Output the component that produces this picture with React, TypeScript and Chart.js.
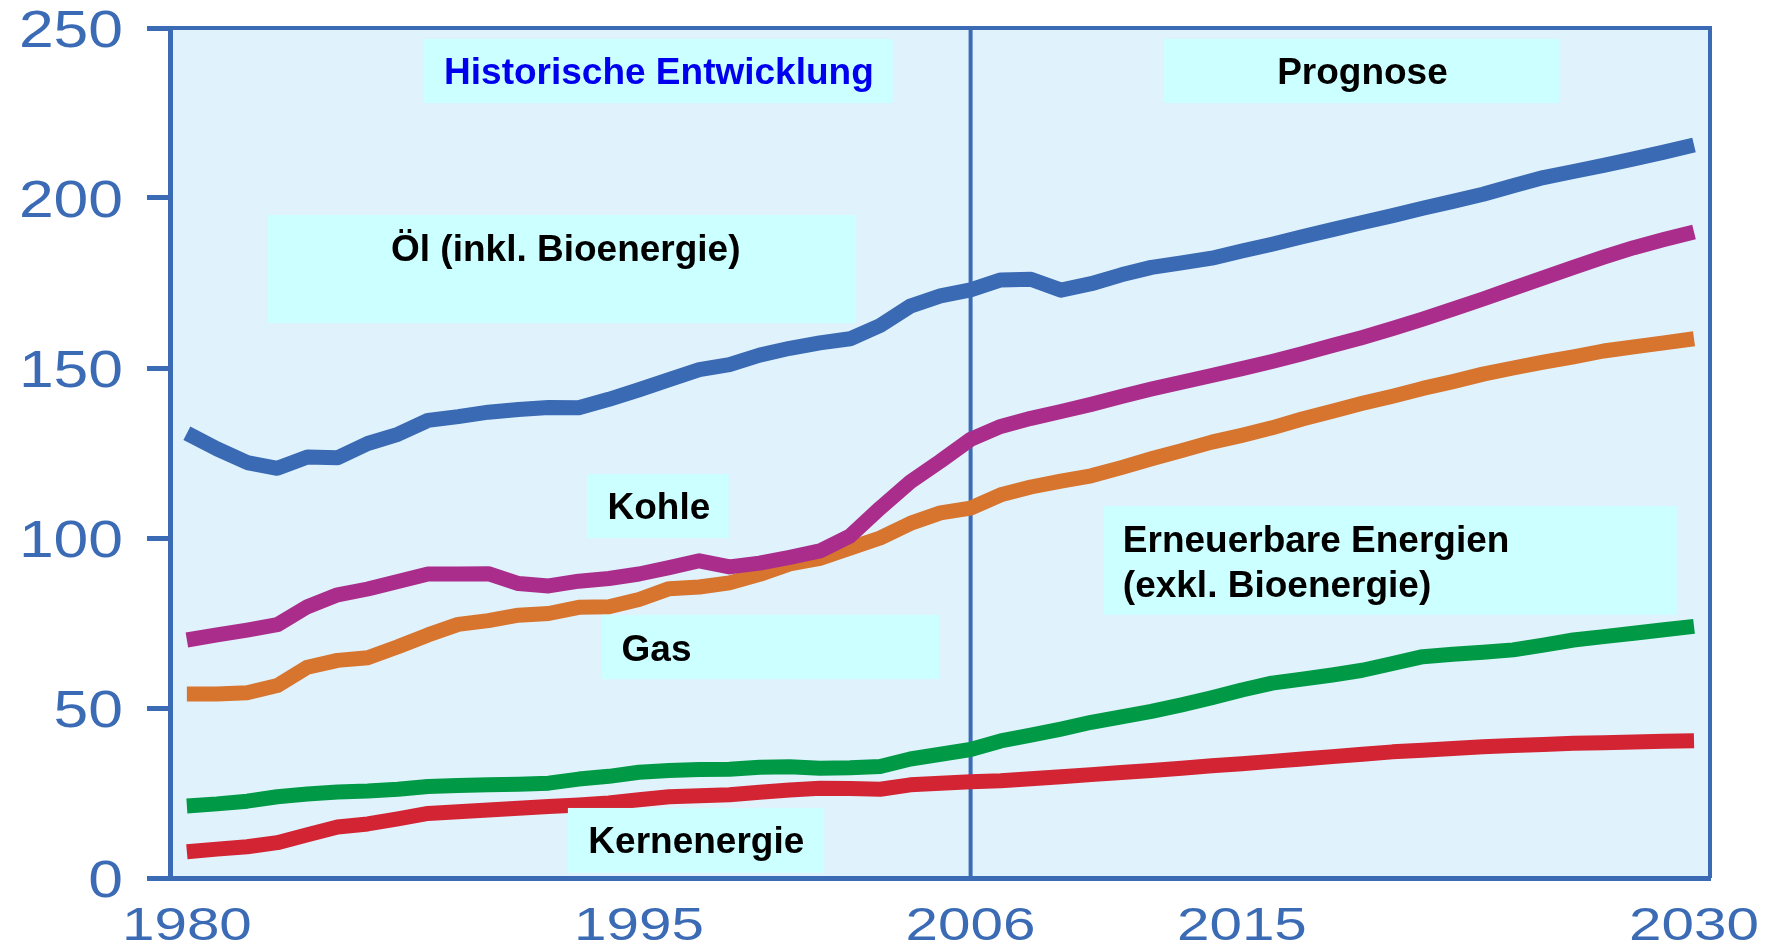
import React, { useEffect, useRef } from "react";
import { Chart, registerables } from "chart.js";

Chart.register(...registerables);

// ---------- data ----------
const years = [
  1980, 1981, 1982, 1983, 1984, 1985, 1986, 1987, 1988, 1989,
  1990, 1991, 1992, 1993, 1994, 1995, 1996, 1997, 1998, 1999,
  2000, 2001, 2002, 2003, 2004, 2005, 2006, 2007, 2008, 2009,
  2010, 2011, 2012, 2013, 2014, 2015, 2016, 2017, 2018, 2019,
  2020, 2021, 2022, 2023, 2024, 2025, 2026, 2027, 2028, 2029,
  2030,
];

const oil = [
  130.8, 126.2, 122.2, 120.5, 123.8, 123.6, 127.8, 130.5, 134.6, 135.7,
  137.0, 137.8, 138.4, 138.3, 140.8, 143.6, 146.6, 149.5, 151.0, 153.8,
  155.8, 157.4, 158.6, 162.5, 168.2, 171.2, 173.0, 175.9, 176.1, 172.9,
  174.8, 177.4, 179.6, 180.9, 182.3, 184.4, 186.4, 188.6, 190.7, 192.8,
  194.8, 197.0, 199.0, 201.1, 203.6, 206.0, 207.8, 209.6, 211.5, 213.5,
  215.6,
];

const coal = [
  70.0, 71.5, 72.9, 74.5, 79.8, 83.3, 85.0, 87.2, 89.4, 89.4,
  89.5, 86.6, 85.9, 87.3, 88.1, 89.4, 91.3, 93.3, 91.5, 92.6,
  94.3, 96.2, 100.6, 108.8, 116.5, 122.6, 129.0, 132.8, 135.2, 137.2,
  139.3, 141.6, 143.8, 145.8, 147.8, 149.8, 151.9, 154.2, 156.6, 159.0,
  161.6, 164.4, 167.3, 170.3, 173.4, 176.5, 179.6, 182.6, 185.4, 187.8,
  190.0,
];

const gas = [
  54.1, 54.1, 54.5, 56.6, 62.0, 64.0, 64.8, 68.0, 71.5, 74.6,
  75.7, 77.3, 77.8, 79.6, 79.8, 81.9, 85.1, 85.6, 86.8, 89.3,
  92.4, 94.0, 97.0, 100.0, 104.3, 107.4, 108.8, 112.7, 115.0, 116.7,
  118.3, 120.7, 123.3, 125.7, 128.2, 130.2, 132.4, 135.0, 137.3, 139.6,
  141.7, 144.0, 146.0, 148.2, 150.0, 151.7, 153.3, 155.0, 156.2, 157.4,
  158.6,
];

const renewables = [
  21.2, 21.8, 22.6, 23.9, 24.7, 25.3, 25.6, 26.1, 26.9, 27.2,
  27.4, 27.6, 27.9, 29.1, 29.9, 31.1, 31.6, 31.9, 32.0, 32.6,
  32.7, 32.3, 32.4, 32.8, 35.0, 36.4, 37.8, 40.3, 42.0, 43.8,
  45.8, 47.4, 49.0, 50.9, 53.0, 55.3, 57.3, 58.5, 59.7, 61.1,
  63.1, 65.1, 65.8, 66.4, 67.1, 68.5, 70.0, 71.0, 72.0, 73.0,
  74.0,
];

const nuclear = [
  7.7, 8.5, 9.2, 10.4, 12.7, 15.0, 15.9, 17.4, 19.0, 19.5,
  20.0, 20.5, 21.0, 21.5, 22.1, 23.0, 23.9, 24.2, 24.5, 25.2,
  25.9, 26.4, 26.3, 26.1, 27.4, 27.9, 28.3, 28.6, 29.2, 29.8,
  30.4, 31.0, 31.6, 32.3, 33.0, 33.6, 34.3, 35.0, 35.7, 36.4,
  37.1, 37.6, 38.1, 38.6, 39.0, 39.3, 39.6, 39.8, 40.0, 40.2,
  40.4,
];

const xTickYears = [1980, 1995, 2006, 2015, 2030];
const xTickLabels = ["1980", "1995", "2006", "2015", "2030"];
const yTickValues = [0, 50, 100, 150, 200, 250];
const yTickLabels = ["0", "50", "100", "150", "200", "250"];
const splitYear = 2006;

const seriesNames = [
  "Öl (inkl. Bioenergie)",
  "Kohle",
  "Gas",
  "Erneuerbare Energien (exkl. Bioenergie)",
  "Kernenergie",
];

// ---------- styles ----------
const AXIS = "#3b6bb5";
const PLOT_BG = "#e0f2fc";
const NOTE_BG = "#ccffff";
const seriesColors = ["#3a6ab3", "#aa2d8c", "#d7742e", "#009a46", "#d32433"];
const seriesValues = [oil, coal, gas, renewables, nuclear];
const X_MIN = 1979.44;
const X_MAX = 2030.53;

// annotation boxes in data units: [x0, x1, yTop, yBottom]
type Note = {
  lines: string[];
  box: [number, number, number, number];
  align: "center" | "left";
  tx: number;
  ty: number[];
  color: string;
};

const notes: Note[] = [
  { lines: ["Historische Entwicklung"], box: [1987.86, 2003.42, 246.8, 227.9], align: "center", tx: 1995.66, ty: [237.3], color: "#0000ee" },
  { lines: ["Prognose"], box: [2012.42, 2025.52, 246.8, 227.9], align: "center", tx: 2019.0, ty: [237.3], color: "#000000" },
  { lines: ["Öl (inkl. Bioenergie)"], box: [1982.69, 2002.2, 195.0, 163.2], align: "center", tx: 1992.57, ty: [185.3], color: "#000000" },
  { lines: ["Kohle"], box: [1993.27, 1997.98, 118.8, 100.0], align: "center", tx: 1995.66, ty: [109.4], color: "#000000" },
  { lines: ["Gas"], box: [1993.77, 2004.95, 77.4, 58.5], align: "left", tx: 1994.42, ty: [67.6], color: "#000000" },
  { lines: ["Erneuerbare Energien", "(exkl. Bioenergie)"], box: [2010.42, 2029.43, 109.4, 77.4], align: "left", tx: 2011.05, ty: [99.7, 86.5], color: "#000000" },
  { lines: ["Kernenergie"], box: [1992.64, 2001.13, 20.6, 1.5], align: "center", tx: 1996.9, ty: [11.2], color: "#000000" },
];

const NOTE_FONT = 'bold 37px "Liberation Sans", Arial, sans-serif';
const TICK_FONT_FAMILY = '"Liberation Sans", Arial, sans-serif';

const framePlugin = {
  id: "frameAndNotes",
  beforeDraw(chart: any) {
    const { ctx, chartArea: a } = chart;
    ctx.save();
    ctx.fillStyle = PLOT_BG;
    ctx.fillRect(a.left, a.top, a.right - a.left, a.bottom - a.top);
    ctx.restore();
  },
  beforeDatasetsDraw(chart: any) {
    const { ctx, chartArea: a, scales } = chart;
    const x = scales.x.getPixelForValue(splitYear);
    ctx.save();
    ctx.strokeStyle = AXIS;
    ctx.lineWidth = 4;
    ctx.beginPath();
    ctx.moveTo(x, a.top);
    ctx.lineTo(x, a.bottom);
    ctx.stroke();
    ctx.restore();
  },
  afterDatasetsDraw(chart: any) {
    const { ctx, chartArea: a, scales } = chart;
    const xs = scales.x;
    const ys = scales.y;
    ctx.save();
    // top and right frame
    ctx.strokeStyle = AXIS;
    ctx.lineWidth = 4;
    ctx.beginPath();
    ctx.moveTo(a.left, a.top);
    ctx.lineTo(a.right, a.top);
    ctx.lineTo(a.right, a.bottom);
    ctx.stroke();
    // notes
    for (const n of notes) {
      const x0 = xs.getPixelForValue(n.box[0]);
      const x1 = xs.getPixelForValue(n.box[1]);
      const y0 = ys.getPixelForValue(n.box[2]);
      const y1 = ys.getPixelForValue(n.box[3]);
      ctx.fillStyle = NOTE_BG;
      ctx.fillRect(x0, y0, x1 - x0, y1 - y0);
      ctx.fillStyle = n.color;
      ctx.font = NOTE_FONT;
      ctx.textAlign = n.align;
      ctx.textBaseline = "alphabetic";
      const tx = xs.getPixelForValue(n.tx);
      n.lines.forEach((line, i) => {
        const ty = ys.getPixelForValue(n.ty[i]);
        ctx.fillText(line, tx, ty + 13);
      });
    }
    ctx.restore();
  },
  afterDraw(chart: any) {
    const { ctx, chartArea: a, scales } = chart;
    ctx.save();
    ctx.fillStyle = AXIS;
    ctx.textBaseline = "alphabetic";
    // y tick labels (wide lettering)
    ctx.font = `52px ${TICK_FONT_FAMILY}`;
    ctx.textAlign = "right";
    yTickValues.forEach((v, i) => {
      const py = scales.y.getPixelForValue(v);
      ctx.save();
      ctx.translate(a.left - 47, py + 18.5);
      ctx.scale(1.2, 1);
      ctx.fillText(yTickLabels[i], 0, 0);
      ctx.restore();
    });
    // x tick labels
    ctx.font = `46px ${TICK_FONT_FAMILY}`;
    ctx.textAlign = "center";
    xTickYears.forEach((yr, i) => {
      const px = scales.x.getPixelForValue(yr);
      ctx.save();
      ctx.translate(px, a.bottom + 62);
      ctx.scale(1.27, 1);
      ctx.fillText(xTickLabels[i], 0, 0);
      ctx.restore();
    });
    ctx.restore();
  },
};

export default function App() {
  const canvasRef = useRef<HTMLCanvasElement | null>(null);

  useEffect(() => {
    const canvas = canvasRef.current;
    if (!canvas) return;
    const chart = new Chart(canvas, {
      type: "line",
      data: {
        datasets: seriesValues.map((vals, si) => ({
          label: seriesNames[si],
          data: years.map((yr, i) => ({ x: yr, y: vals[i] })),
          borderColor: seriesColors[si],
          backgroundColor: seriesColors[si],
          borderWidth: 15,
          pointRadius: 0,
          pointHoverRadius: 0,
          tension: 0,
          fill: false,
          borderJoinStyle: "round",
          borderCapStyle: "butt",
        })),
      },
      options: {
        responsive: false,
        animation: false,
        events: [],
        layout: { padding: { left: 147, right: 66, top: 28, bottom: 69 } },
        plugins: {
          legend: { display: false },
          tooltip: { enabled: false },
          title: { display: false },
        },
        scales: {
          x: {
            type: "linear",
            min: X_MIN,
            max: X_MAX,
            grid: { display: false, drawTicks: false },
            border: { display: true, color: AXIS, width: 5 },
            ticks: { display: false },
          },
          y: {
            type: "linear",
            min: 0,
            max: 250,
            afterBuildTicks: (scale: any) => {
              scale.ticks = yTickValues.map((v) => ({ value: v }));
            },
            grid: {
              display: true,
              drawOnChartArea: false,
              drawTicks: true,
              tickLength: 23,
              color: AXIS,
              lineWidth: 5,
            },
            border: { display: true, color: AXIS, width: 5 },
            ticks: { display: false },
          },
        },
      },
      plugins: [framePlugin],
    } as any);
    return () => chart.destroy();
  }, []);

  return (
    <div style={{ position: "absolute", left: 0, top: 0, width: 1776, height: 947, background: "#ffffff" }}>
      <canvas ref={canvasRef} width={1776} height={947} style={{ display: "block" }} />
    </div>
  );
}
